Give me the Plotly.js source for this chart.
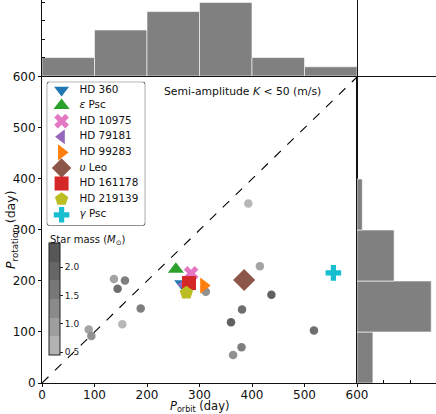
<!DOCTYPE html>
<html><head><meta charset="utf-8">
<script src="https://cdn.plot.ly/plotly-3.0.1.min.js"></script>
<style>body{margin:0;padding:0;background:#fff}#chart{width:436px;height:414px}</style>
</head><body><div id="chart"></div>
<script>
// ---- data ----
const grayOrbit = [393, 415, 137, 158, 144, 188, 153, 89, 94, 312, 437, 381, 360, 518, 380, 364];
const grayRot   = [352, 229, 204, 201, 185, 146, 115, 105, 92, 179, 173, 144, 119, 103, 70, 55];
const grayMass  = [0.7, 0.8, 1.0, 1.5, 1.9, 1.5, 0.7, 1.0, 1.2, 1.2, 2.2, 1.9, 2.2, 1.9, 1.6, 1.3];

const starNames  = ['HD 360', '<i>ε</i> Psc', 'HD 10975', 'HD 79181', 'HD 99283', '<i>υ</i> Leo', 'HD 161178', 'HD 219139', '<i>γ</i> Psc'];
const starOrbit  = [266, 255, 284, 270, 308, 385, 280, 275, 555];
const starRot    = [195, 223, 215, 193, 191, 202, 196, 177, 216];
const starSymbol = ['triangle-down', 'triangle-up', 'x', 'triangle-left', 'triangle-right', 'diamond', 'square', 'pentagon', 'cross'];
const starColor  = ['#1f77b4', '#2ca02c', '#e377c2', '#9467bd', '#ff7f0e', '#8c564b', '#d62728', '#bcbd22', '#17becf'];
const starSize   = [13, 14, 13, 13, 14, 17, 14, 14, 13];

const orbitBinCenters = [50, 150, 250, 350, 450, 550];
const orbitCounts     = [2, 5, 7, 8, 2, 1];
const rotBinCenters   = [50, 150, 250, 350];
const rotCounts       = [3, 14, 7, 1];

const oneToOne = [0, 600];
const axisTicks = [0, 100, 200, 300, 400, 500, 600];
const massTicks = [0.5, 1.0, 1.5, 2.0];
const massTickText = ['0.5', '1.0', '1.5', '2.0'];

// ---- figure ----
const FONT = 'DejaVu Sans, Liberation Sans, sans-serif';
const massMin = 0.45, massMax = 2.43;
const bandColors = ['#b3b3b3', '#9e9e9e', '#8a8a8a', '#777777', '#666666', '#575757'];
const cs = [];
bandColors.forEach((c, i) => { cs.push([i / bandColors.length, c]); cs.push([(i + 1) / bandColors.length, c]); });

const traces = [];
traces.push({type:'scatter', mode:'lines', x: oneToOne, y: oneToOne, xaxis:'x', yaxis:'y',
  line:{color:'black', width:1.1, dash:'dash'}, hoverinfo:'skip', showlegend:false});
traces.push({type:'scatter', mode:'markers', x: grayOrbit, y: grayRot, xaxis:'x', yaxis:'y', showlegend:false,
  marker:{size:8.5, color: grayMass, colorscale: cs, cmin: massMin, cmax: massMax, opacity:0.95, line:{width:0},
    colorbar:{x:0.0185, xanchor:'left', y:0.2196, yanchor:'middle', len:0.293, lenmode:'fraction', thickness:11,
      xpad:0, ypad:0, outlinewidth:1, outlinecolor:'#222', ticks:'outside', ticklen:3, tickwidth:1, tickcolor:'#222',
      tickvals: massTicks, ticktext: massTickText, tickfont:{family:FONT, size:9, color:'#222'}}}});
for (let i = 0; i < starNames.length; i++) {
  traces.push({type:'scatter', mode:'markers', x:[starOrbit[i]], y:[starRot[i]], xaxis:'x', yaxis:'y', showlegend:false,
    name: starNames[i], marker:{symbol: starSymbol[i], color: starColor[i], size: starSize[i], opacity:1, line:{width:0}}});
}
// histograms
traces.push({type:'bar', x: orbitBinCenters, y: orbitCounts, width: 100, xaxis:'x2', yaxis:'y2', showlegend:false,
  marker:{color:'#808080', line:{color:'rgba(255,255,255,0.6)', width:1}}});
traces.push({type:'bar', orientation:'h', y: rotBinCenters, x: rotCounts, width: 100, xaxis:'x3', yaxis:'y3', showlegend:false,
  marker:{color:'#808080', line:{color:'rgba(255,255,255,0.6)', width:1}}});
// manual legend (symbols + labels)
const legIdx = starNames.map((_, i) => 8.3 + i * 15.6);
traces.push({type:'scatter', mode:'markers', x: starNames.map(() => 15), y: legIdx, xaxis:'x4', yaxis:'y4', showlegend:false,
  marker:{symbol: starSymbol, color: starColor, size: starSize.map(s => Math.min(s, 15)), opacity:1, line:{width:0}}, hoverinfo:'skip'});
traces.push({type:'scatter', mode:'text', x: starNames.map(() => 33), y: legIdx, xaxis:'x4', yaxis:'y4', showlegend:false,
  text: starNames, textposition:'middle right', textfont:{family:FONT, size:10.4, color:'#111'}, hoverinfo:'skip'});

const mainX = 0.7995, mainYTop = 0.799, topY0 = 0.8016;
const baseAxis = {showgrid:false, zeroline:false, showline:true, linecolor:'#111', linewidth:1, mirror:true,
  tickfont:{family:FONT, size:12, color:'#111'}, ticks:'outside', ticklen:3, tickcolor:'#111'};

const layout = {
  width:436, height:414, margin:{l:42, r:0, t:0, b:31}, paper_bgcolor:'white', plot_bgcolor:'rgba(0,0,0,0)',
  font:{family:FONT, color:'#111'}, showlegend:false, bargap:0,
  xaxis: Object.assign({}, baseAxis, {domain:[0, mainX], range:[0, 600], anchor:'y', tickvals: axisTicks, ticklabelstandoff:-2}),
  yaxis: Object.assign({}, baseAxis, {domain:[0, mainYTop], range:[0, 600], anchor:'x', tickvals: axisTicks}),
  xaxis2: Object.assign({}, baseAxis, {domain:[0, mainX], range:[0, 600], anchor:'y2', showticklabels:false, ticks:''}),
  yaxis2: Object.assign({}, baseAxis, {domain:[topY0, 1], range:[0, 8.26], anchor:'x2', showticklabels:false,
    ticks:'inside', ticklen:3, tickvals:[2, 4, 6, 8]}),
  xaxis3: Object.assign({}, baseAxis, {domain:[mainX, 1], range:[0, 14.9], anchor:'y3', showticklabels:false,
    ticks:'inside', ticklen:3, tickvals:[5, 10, 15]}),
  yaxis3: Object.assign({}, baseAxis, {domain:[0, mainYTop], range:[0, 600], anchor:'x3', showticklabels:false, ticks:''}),
  xaxis4: {domain:[0.0119, 0.2622], range:[0, 99.3], anchor:'y4', visible:false, fixedrange:true},
  yaxis4: {domain:[0.4107, 0.7867], range:[144, 0], anchor:'x4', visible:false, fixedrange:true},
  shapes:[{type:'path', xref:'x4', yref:'y4', layer:'above',
    path:'M 3,0 L 96.3,0 Q 99.3,0 99.3,3 L 99.3,141 Q 99.3,144 96.3,144 L 3,144 Q 0,144 0,141 L 0,3 Q 0,0 3,0 Z',
    line:{color:'#444', width:1}, fillcolor:'rgba(0,0,0,0)'}],
  annotations:[
    {xref:'paper', yref:'paper', x:0.3046, y:0.762, xanchor:'left', yanchor:'middle', showarrow:false,
      text:'Semi-amplitude <i>K</i> &lt; 50 (m/s)', font:{family:FONT, size:10.8, color:'#111'}},
    {xref:'paper', yref:'paper', x:0.0152, y:0.373, xanchor:'left', yanchor:'middle', showarrow:false,
      text:'Star mass (<i>M</i><sub>⊙</sub>)', font:{family:FONT, size:10, color:'#111'}},
    {xref:'paper', yref:'paper', x:0.3997, y:-0.0398, xanchor:'center', yanchor:'top', showarrow:false, borderpad:0,
      text:'<i>P</i><sub>orbit</sub> (day)', font:{family:FONT, size:11.5, color:'#111'}},
    {xref:'paper', yref:'paper', x:-0.076, y:0.3995, xanchor:'center', yanchor:'middle', showarrow:false, textangle:-90,
      text:'<i>P</i><sub>rotation</sub> (day)', font:{family:FONT, size:12.5, color:'#111'}}
  ]
};
Plotly.newPlot('chart', traces, layout, {displayModeBar:false, staticPlot:true});
</script></body></html>
